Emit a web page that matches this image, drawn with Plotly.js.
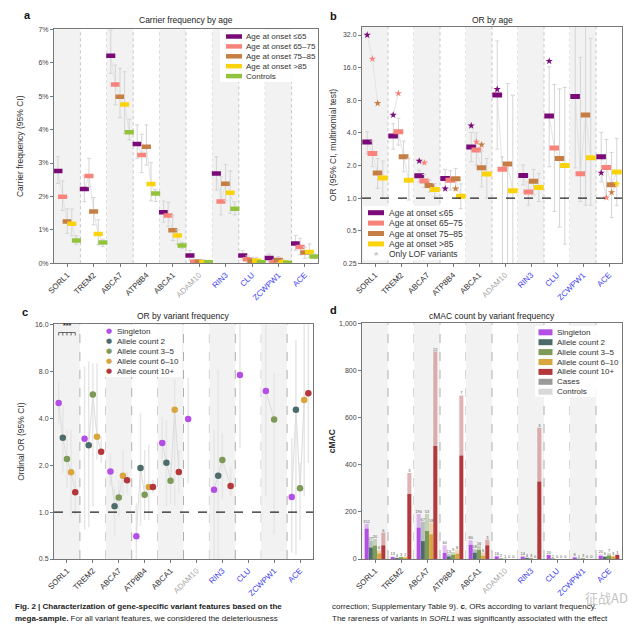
<!DOCTYPE html>
<html><head><meta charset="utf-8">
<script src="https://cdn.plot.ly/plotly-3.0.1.min.js"></script>
<style>html,body{margin:0;padding:0;background:#fff}#chart{width:640px;height:626px}</style>
</head><body><div id="chart"></div>
<script>
// ---------- shared categories ----------
const genes = ['SORL1','TREM2','ABCA7','ATP8B4','ABCA1','ADAM10','RIN3','CLU','ZCWPW1','ACE'];
const geneLabelColors = ['#333333','#333333','#333333','#333333','#333333','#aaaaaa','#3b3bf0','#3b3bf0','#3b3bf0','#3b3bf0'];

// ---------- panel a: carrier frequency (%) ----------
const ageGroups = ['Age at onset ≤65','Age at onset 65–75','Age at onset 75–85','Age at onset >85','Controls'];
const ageColors = ['#7a0a78','#f8837a','#c77e45','#fbd30d','#91c43c'];
const cfLe65 = [2.76,2.22,6.21,3.57,1.53,0.23,2.69,0.23,0.16,0.59];
const cfLe65Lo = [2.39,1.84,5.68,3.14,1.23,0.10,2.19,0.10,0.04,0.38];
const cfLe65Hi = [3.19,2.62,6.98,4.14,1.86,0.38,3.19,0.38,0.28,0.83];
const cf6575 = [1.99,2.61,5.35,3.24,1.43,0.05,1.85,0.12,0.03,0.49];
const cf6575Lo = [1.58,2.29,4.74,2.71,1.10,0.00,1.45,0.03,0.00,0.25];
const cf6575Hi = [2.46,3.14,5.93,3.86,1.82,0.12,2.59,0.22,0.10,0.75];
const cf7585 = [1.25,1.55,4.98,3.49,0.99,0.05,2.38,0.08,0.10,0.32];
const cf7585Lo = [0.90,1.15,4.36,2.94,0.68,0.00,1.87,0.02,0.02,0.15];
const cf7585Hi = [1.63,1.97,5.83,4.14,1.42,0.12,2.96,0.18,0.20,0.48];
const cfGt85 = [1.18,0.88,4.75,2.37,0.83,0.03,2.11,0.08,0.03,0.34];
const cfGt85Lo = [0.82,0.55,3.89,1.87,0.57,0.00,1.50,0.00,0.00,0.17];
const cfGt85Hi = [1.62,1.30,5.73,3.01,1.00,0.10,2.76,0.18,0.10,0.58];
const cfControls = [0.68,0.62,3.92,2.09,0.53,0.03,1.63,0.03,0.02,0.20];
const cfControlsLo = [0.57,0.50,3.69,1.85,0.45,0.01,1.45,0.01,0.01,0.14];
const cfControlsHi = [0.82,0.72,4.31,2.21,0.62,0.06,1.84,0.06,0.04,0.28];

// ---------- panel b: OR by age ----------
const orLe65 = [3.29,3.74,1.61,1.52,2.96,8.94,1.62,5.72,8.68,2.41];
const orLe65Lo = [2.58,2.83,1.41,1.25,2.17,2.83,1.32,1.95,1.90,1.41];
const orLe65Hi = [4.10,4.86,1.81,1.84,4.03,28.2,2.02,16.3,40.0,4.04];
const or6575 = [2.58,4.10,1.44,1.46,2.78,1.85,1.14,2.90,1.68,1.92];
const or6575Lo = [1.95,3.09,1.25,1.18,2.02,0.20,0.86,0.75,0.93,1.00];
const or6575Hi = [3.36,5.44,1.65,1.79,4.00,2.40,1.41,11.2,19.9,3.48];
const or7585 = [1.70,2.41,1.31,1.51,1.91,2.06,1.43,2.32,5.84,1.33];
const or7585Lo = [1.23,1.75,1.14,1.19,1.27,0.20,1.07,0.54,0.86,0.66];
const or7585Hi = [2.32,3.36,1.47,1.88,2.72,11.4,1.84,10.2,40.0,2.64];
const orGt85 = [1.53,1.46,1.20,1.04,1.67,1.17,1.25,2.00,2.36,1.74];
const orGt85Lo = [1.00,0.96,1.03,0.80,1.00,0.20,0.93,0.376,0.86,0.85];
const orGt85Hi = [2.20,2.32,1.36,1.35,2.32,8.90,1.69,10.5,29.8,3.56];
const lofLe65 = [32.0,5.85,2.20,1.22,4.66,10.1,null,18.4,null,1.71];
const lof6575 = [19.3,9.26,2.12,null,3.30,null,null,null,null,1.01];
const lof7585 = [7.5,null,null,1.22,3.11,null,null,null,null,1.13];
const lofGt85 = [null,null,null,null,null,null,null,null,null,1.35];

// ---------- panel c: ordinal OR by variant frequency ----------
const freqGroups = ['Singleton','Allele count 2','Allele count 3–5','Allele count 6–10','Allele count 10+'];
const freqColors = ['#b44fe6','#4e6b6b','#7d9a57','#d9a53e','#b3383b'];
const ordSingleton = [5.00,2.95,1.82,0.70,2.77,3.95,1.39,7.56,5.97,1.25];
const ordSingletonLo = [3.63,0.77,1.46,0.40,1.96,1.53,0.40,2.57,1.26,0.55];
const ordSingletonHi = [6.90,8.60,2.39,1.14,4.10,7.24,3.37,20.0,15.9,2.98];
const ordAc2 = [3.00,2.68,1.09,1.92,2.07,null,1.71,null,null,4.53];
const ordAc2Lo = [1.78,0.80,0.70,0.81,1.09,null,0.40,null,null,0.53];
const ordAc2Hi = [4.88,9.26,1.46,4.30,3.90,null,8.20,null,null,12.7];
const ordAc3 = [2.19,5.68,1.24,1.29,1.59,null,2.16,null,3.93,1.42];
const ordAc3Lo = [1.43,1.09,0.94,0.89,1.14,null,1.20,null,0.72,0.66];
const ordAc3Hi = [3.37,9.00,1.61,2.51,2.06,null,3.21,null,7.80,2.06];
const ordAc6 = [1.80,3.04,1.71,1.45,4.53,null,null,null,null,5.23];
const ordAc6Lo = [0.94,2.17,1.26,0.89,1.09,null,null,null,null,1.26];
const ordAc6Hi = [3.37,9.00,2.51,2.70,7.10,null,null,null,null,17.0];
const ordAc10 = [1.34,2.44,1.60,1.45,1.81,null,1.47,null,null,5.77];
const ordAc10Lo = [0.96,2.06,1.32,1.32,1.32,null,1.26,null,null,2.06];
const ordAc10Hi = [1.82,3.06,1.82,1.61,2.51,null,1.96,null,null,17.0];

// ---------- panel d: cMAC counts ----------
const singletonCases = [129,8,133,26,60,11,9,17,7,13];
const singletonControls = [20,3,58,32,19,3,4,1,1,7];
const ac2Cases = [49,4,76,11,27,2,4,2,1,10];
const ac2Controls = [29,2,82,12,14,1,2,0,0,2];
const ac3Cases = [57,8,119,18,38,1,3,0,3,15];
const ac3Controls = [28,2,72,12,19,0,1,0,1,10];
const ac6Cases = [24,7,105,23,14,0,0,0,0,11];
const ac6Controls = [13,3,49,17,13,0,0,0,0,3];
const ac10Cases = [58,276,479,439,58,0,329,0,0,18];
const ac10Controls = [54,89,401,255,24,0,228,0,0,0];
const singletonN = [151,13,190,60,80,16,14,20,8,20];
const ac2N = [27,4,67,13,18,2,4,2,1,6];
const ac3N = [20,3,53,9,16,1,3,0,3,7];
const ac6N = [6,2,58,8,6,0,0,0,0,3];
const ac10N = [6,3,22,7,3,0,3,0,0,1];

// ---------- layout helpers ----------
const W = 640, H = 626;
const PX = x => x / W;
const PY = y => 1 - y / H;
const FONT = 'Liberation Sans, Arial, sans-serif';
const offA = [-0.35,-0.175,0,0.175,0.35];
const offB = [-0.3,-0.1,0.1,0.3];
const offC = [-0.32,-0.16,0,0.16,0.32];
const offD = [-0.32,-0.16,0,0.16,0.32];

const traces = [];
function sub(a, b) { return a.map((v, i) => (v == null || b[i] == null) ? null : v - b[i]); }
function linkTrace(list, offs, xa, ya, color, w) {
  const x = [], y = [];
  genes.forEach((g, i) => {
    list.forEach((s, k) => { if (s[i] != null) { x.push(i + offs[k]); y.push(s[i]); } });
    x.push(null); y.push(null);
  });
  return {type:'scatter', mode:'lines', x, y, xaxis:xa, yaxis:ya, line:{color, width:w||1},
    hoverinfo:'skip', showlegend:false};
}
const xs = (off) => genes.map((g, i) => i + off);

// panel a
const aSeries = [[cfLe65,cfLe65Lo,cfLe65Hi],[cf6575,cf6575Lo,cf6575Hi],[cf7585,cf7585Lo,cf7585Hi],[cfGt85,cfGt85Lo,cfGt85Hi],[cfControls,cfControlsLo,cfControlsHi]];
traces.push(linkTrace(aSeries.map(s => s[0]), offA, 'x', 'y', '#e4e4e4'));
aSeries.forEach((s, k) => {
  traces.push({type:'scatter', mode:'markers', name:ageGroups[k], x:xs(offA[k]), y:s[0], xaxis:'x', yaxis:'y',
    error_y:{type:'data', symmetric:false, array:sub(s[2], s[0]), arrayminus:sub(s[0], s[1]), color:'#d4d4d4', thickness:1, width:2},
    marker:{symbol:'line-ew-open', size:6.5, color:ageColors[k], line:{width:4.5, color:ageColors[k]}},
    showlegend:false, hoverinfo:'skip'});
});

// panel b
const bSeries = [[orLe65,orLe65Lo,orLe65Hi],[or6575,or6575Lo,or6575Hi],[or7585,or7585Lo,or7585Hi],[orGt85,orGt85Lo,orGt85Hi]];
const lofSeries = [lofLe65, lof6575, lof7585, lofGt85];
traces.push(linkTrace(bSeries.map(s => s[0]), offB, 'x2', 'y2', '#e4e4e4'));
traces.push(linkTrace(lofSeries, offB, 'x2', 'y2', '#e4e4e4'));
bSeries.forEach((s, k) => {
  traces.push({type:'scatter', mode:'markers', name:ageGroups[k], x:xs(offB[k]), y:s[0], xaxis:'x2', yaxis:'y2',
    error_y:{type:'data', symmetric:false, array:sub(s[2], s[0]), arrayminus:sub(s[0], s[1]), color:'#d4d4d4', thickness:1, width:2},
    marker:{symbol:'line-ew-open', size:7, color:ageColors[k], line:{width:5, color:ageColors[k]}},
    showlegend:false, hoverinfo:'skip'});
});
lofSeries.forEach((s, k) => {
  traces.push({type:'scatter', mode:'markers', name:'Only LOF variants', x:xs(offB[k]), y:s, xaxis:'x2', yaxis:'y2',
    marker:{symbol:'star', size:5.5, color:ageColors[k]}, showlegend:false, hoverinfo:'skip'});
});

// panel c
const cSeries = [[ordSingleton,ordSingletonLo,ordSingletonHi],[ordAc2,ordAc2Lo,ordAc2Hi],[ordAc3,ordAc3Lo,ordAc3Hi],[ordAc6,ordAc6Lo,ordAc6Hi],[ordAc10,ordAc10Lo,ordAc10Hi]];
cSeries.forEach((s, k) => {
  traces.push({type:'scatter', mode:'markers', x:xs(offC[k]), y:s[0], xaxis:'x3', yaxis:'y3',
    error_y:{type:'data', symmetric:false, array:sub(s[2], s[0]), arrayminus:sub(s[0], s[1]), color:'#e6e6e6', thickness:1.5, width:0},
    marker:{size:0.1, color:'rgba(0,0,0,0)'}, showlegend:false, hoverinfo:'skip'});
});
traces.push(linkTrace(cSeries.map(s => s[0]), offC, 'x3', 'y3', '#dcdcdc'));
cSeries.forEach((s, k) => {
  traces.push({type:'scatter', mode:'markers', name:freqGroups[k], x:xs(offC[k]), y:s[0], xaxis:'x3', yaxis:'y3',
    marker:{symbol:'circle', size:6.5, color:freqColors[k]}, showlegend:false, hoverinfo:'skip'});
});

// panel d
const dCases = [singletonCases, ac2Cases, ac3Cases, ac6Cases, ac10Cases];
const dControls = [singletonControls, ac2Controls, ac3Controls, ac6Controls, ac10Controls];
const dN = [singletonN, ac2N, ac3N, ac6N, ac10N];
dCases.forEach((c, k) => {
  traces.push({type:'bar', name:freqGroups[k] + ' cases', x:xs(offD[k]), y:c, width:0.155, xaxis:'x4', yaxis:'y4',
    marker:{color:freqColors[k], line:{width:0}}, showlegend:false, hoverinfo:'skip'});
  traces.push({type:'bar', name:freqGroups[k] + ' controls', x:xs(offD[k]), y:dControls[k], base:c, width:0.155, xaxis:'x4', yaxis:'y4',
    marker:{color:freqColors[k], opacity:0.38, line:{width:0}}, showlegend:false, hoverinfo:'skip'});
  traces.push({type:'scatter', mode:'text', x:xs(offD[k]), y:c.map((v, i) => v + dControls[k][i]),
    text:dN[k].map(String), textposition:'top center', textfont:{size:4, color:'#555', family:FONT},
    xaxis:'x4', yaxis:'y4', showlegend:false, hoverinfo:'skip', cliponaxis:false});
});

// ---------- axes ----------
const tickText = genes.map((g, i) => `<span style="color:${geneLabelColors[i]}">${g}</span>`);
const axBase = {showgrid:false, zeroline:false, showline:true, linecolor:'#777', linewidth:1, mirror:true,
  ticks:'outside', ticklen:3, tickcolor:'#777', tickfont:{size:7, color:'#444', family:FONT}};
function xAx(d0, d1, anchor) {
  return Object.assign({}, axBase, {domain:[PX(d0), PX(d1)], range:[-0.5, 9.5], tickmode:'array',
    tickvals:genes.map((g, i) => i), ticktext:tickText, tickangle:-45, tickfont:{size:8, color:'#333', family:FONT}, anchor});
}
const bTop = Math.log10(38.2), bBot = Math.log10(0.25);
const layout = {
  width:W, height:H, margin:{l:0, r:0, t:0, b:0}, paper_bgcolor:'#fff', plot_bgcolor:'#fff',
  font:{family:FONT, color:'#333'}, showlegend:false, barmode:'overlay',
  xaxis:xAx(54, 318, 'y'),
  xaxis2:xAx(362, 622, 'y2'),
  xaxis3:xAx(54, 313, 'y3'),
  xaxis4:xAx(362, 622, 'y4'),
  yaxis:Object.assign({}, axBase, {domain:[PY(263.3), PY(29.3)], range:[0, 7], dtick:1, ticksuffix:'%', anchor:'x',
    title:{text:'Carrier frequency (95% CI)', font:{size:8.5, color:'#333'}, standoff:13}}),
  yaxis2:Object.assign({}, axBase, {domain:[PY(263.3), PY(26.7)], type:'log', range:[bBot, bTop], anchor:'x2',
    tickvals:[0.25,0.5,1,2,4,8,16,32], ticktext:['0.25','0.5','1.0','2.0','4.0','8.0','16.0','32.0'],
    title:{text:'OR (95% CI, multinomial test)', font:{size:8.5, color:'#333'}, standoff:4}}),
  yaxis3:Object.assign({}, axBase, {domain:[PY(559), PY(324.3)], type:'log', range:[Math.log10(0.5), Math.log10(16)], anchor:'x3',
    tickvals:[0.5,1,2,4,8,16], ticktext:['0.5','1.0','2.0','4.0','8.0','16.0'],
    title:{text:'Ordinal OR (95% CI)', font:{size:8.5, color:'#333'}, standoff:8}}),
  yaxis4:Object.assign({}, axBase, {domain:[PY(559), PY(323.3)], range:[0, 1000], dtick:200, tickformat:',', anchor:'x4',
    title:{text:'<b>cMAC</b>', font:{size:8.5, color:'#333'}, standoff:2}}),
  shapes:[], annotations:[]
};

// background bands and separators
const panels = [['x','y','dot','#c4c4c4'],['x2','y2','dot','#c4c4c4'],['x3','y3','dash','#b0b0b0'],['x4','y4','dash','#b0b0b0']];
panels.forEach(([xa, ya, dash, lc]) => {
  genes.forEach((g, i) => {
    if (i % 2 === 0) layout.shapes.push({type:'rect', xref:xa, yref:ya + ' domain', x0:i - 0.5, x1:i + 0.5, y0:0, y1:1,
      fillcolor:'#f2f2f2', line:{width:0}, layer:'below'});
    if (i < genes.length - 1) layout.shapes.push({type:'line', xref:xa, yref:ya + ' domain', x0:i + 0.5, x1:i + 0.5, y0:0, y1:1,
      line:{color:lc, width:1, dash}, layer:'below'});
  });
});
// reference line OR = 1
layout.shapes.push({type:'line', xref:'x2 domain', yref:'y2 domain', x0:0, x1:1,
  y0:(0 - bBot) / (bTop - bBot), y1:(0 - bBot) / (bTop - bBot), line:{color:'#222', width:1.3, dash:'dash'}});
layout.shapes.push({type:'line', xref:'x3 domain', yref:'y3 domain', x0:0, x1:1, y0:0.2, y1:0.2,
  line:{color:'#222', width:1.3, dash:'dash'}});

// significance bracket over SORL1 (panel c)
const brY0 = PY(332.5), brY1 = PY(335.5);
let brPath = `M${0 + offC[0]},${brY1} L${0 + offC[0]},${brY0} L${0 + offC[4]},${brY0} L${0 + offC[4]},${brY1}`;
for (let k = 1; k < 4; k++) brPath += ` M${offC[k]},${brY0} L${offC[k]},${brY1}`;
layout.shapes.push({type:'path', xref:'x3', yref:'paper', path:brPath, line:{color:'#444', width:0.8}});
layout.annotations.push({xref:'x3', yref:'paper', x:0, y:PY(331), text:'<b>***</b>', showarrow:false,
  yanchor:'bottom', font:{size:7, color:'#333'}});

// titles and panel letters
function txt(x, y, text, opts) {
  layout.annotations.push(Object.assign({xref:'paper', yref:'paper', x:PX(x), y:PY(y), text, showarrow:false,
    xanchor:'center', yanchor:'middle', font:{size:8.5, color:'#222', family:FONT}}, opts || {}));
}
txt(186, 20, 'Carrier frequency by age');
txt(492, 20, 'OR by age');
txt(183, 316, 'OR by variant frequency');
txt(492, 316, 'cMAC count by variant frequency');
txt(27, 15, '<b>a</b>', {font:{size:11, color:'#111', family:FONT}});
txt(333, 16, '<b>b</b>', {font:{size:11, color:'#111', family:FONT}});
txt(25, 312, '<b>c</b>', {font:{size:11, color:'#111', family:FONT}});
txt(333, 310, '<b>d</b>', {font:{size:11, color:'#111', family:FONT}});

// custom legends
function legendBox(x0, y0, x1, y1) {
  layout.shapes.push({type:'rect', xref:'paper', yref:'paper', x0:PX(x0), x1:PX(x1), y0:PY(y1), y1:PY(y0),
    fillcolor:'rgba(255,255,255,0.88)', line:{width:0}, layer:'above'});
}
function legendText(x, y, t, size) {
  txt(x, y, t, {xanchor:'left', font:{size:size || 8, color:'#333', family:FONT}});
}
// a
legendBox(220, 30, 318, 82);
ageGroups.forEach((g, k) => {
  const y = 36.5 + k * 9.9;
  layout.shapes.push({type:'line', xref:'paper', yref:'paper', x0:PX(226), x1:PX(242), y0:PY(y), y1:PY(y),
    line:{color:ageColors[k], width:4.5}, layer:'above'});
  legendText(244, y, g);
});
// b
legendBox(363, 206, 458, 260);
ageGroups.slice(0, 4).forEach((g, k) => {
  const y = 212.7 + k * 10.4;
  layout.shapes.push({type:'line', xref:'paper', yref:'paper', x0:PX(368), x1:PX(384), y0:PY(y), y1:PY(y),
    line:{color:ageColors[k], width:5}, layer:'above'});
  legendText(387, y, g, 8.5);
});
txt(376, 212.7 + 4 * 10.4, '★', {font:{size:7, color:'#c8c8c8', family:'DejaVu Sans'}});
legendText(387, 212.7 + 4 * 10.4, 'Only LOF variants', 8.5);
// c
legendBox(101, 325, 182, 377);
freqGroups.forEach((g, k) => {
  const y = 331 + k * 10;
  txt(108.5, y, '●', {font:{size:7, color:freqColors[k], family:'DejaVu Sans'}});
  legendText(114.5, y, g);
});
// d
legendBox(535, 326, 621, 397);
const dLegend = freqGroups.concat(['Cases', 'Controls']);
const dLegendColors = freqColors.concat(['#9a9a9a', '#d8d8d8']);
dLegend.forEach((g, k) => {
  const y = 332.3 + k * 9.9;
  layout.shapes.push({type:'rect', xref:'paper', yref:'paper', x0:PX(538.5), x1:PX(552.5), y0:PY(y + 3), y1:PY(y - 3),
    fillcolor:dLegendColors[k], line:{width:0}, layer:'above'});
  legendText(555, y, g);
});

// caption
const capFont = {size:8, color:'#222', family:'Liberation Sans Narrow, Liberation Sans, Arial, sans-serif'};
txt(13, 606, '<b>Fig. 2 | Characterization of gene-specific variant features based on the</b>', {xanchor:'left', font:capFont});
txt(13, 618, '<b>mega-sample.</b> For all variant features, we considered the deleteriousness', {xanchor:'left', font:capFont});
txt(330, 606, 'correction; Supplementary Table 9). <b>c</b>, ORs according to variant frequency.', {xanchor:'left', font:capFont});
txt(330, 618, 'The rareness of variants in <i>SORL1</i> was significantly associated with the effect', {xanchor:'left', font:capFont});
txt(606, 597, '征战AD', {font:{size:13, color:'#c4c4c4', family:'Noto Sans CJK SC'}});

Plotly.newPlot('chart', traces, layout, {staticPlot:true, displayModeBar:false});
</script></body></html>
